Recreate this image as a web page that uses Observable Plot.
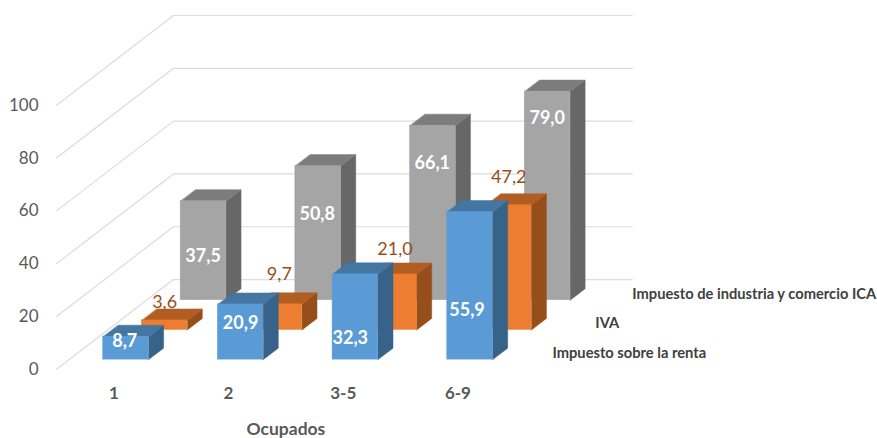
<!DOCTYPE html>
<html>
<head>
<meta charset="utf-8">
<script src="https://cdn.jsdelivr.net/npm/d3@7"></script>
<script src="https://cdn.jsdelivr.net/npm/@observablehq/plot@0.6"></script>
<style>html,body{margin:0;padding:0;background:#fff}svg{display:block}</style>
</head>
<body>
<div id="chart"></div>
<script>
// ---- data ----
const categories = ["1", "2", "3-5", "6-9"];
const renta = [8.7, 20.9, 32.3, 55.9];
const iva = [3.6, 9.7, 21.0, 47.2];
const ica = [37.5, 50.8, 66.1, 79.0];
const seriesNames = ["Impuesto sobre la renta", "IVA", "Impuesto de industria y comercio ICA"];
const yTicks = [0, 20, 40, 60, 80, 100];
const xTitle = "Ocupados";

// ---- oblique projection of (category, value, depth) on the two plot scales ----
const depthX = 1.02;      // category units per full floor depth
const depthY = 33.98;     // value units per full floor depth
const px = (c, d) => c + depthX * d;
const py = (v, d) => v + depthY * d;
const barGap = 0.297, barWidth = 0.396, barDepth = 0.128;

const series = [
  {values: ica,   depth: 0.77,  front: "#A5A5A5", top: "#7C7C7C", side: "#676767", label: "#fff", weight: 700,
   level: [16.9, 32.8, 52.3, 69.2], shift: [-0.002, -0.007, -0.004, -0.002]},
  {values: iva,   depth: 0.439, front: "#ED7D31", top: "#B25D22", side: "#964F1B", label: "#964F1B", weight: 400,
   level: [10.8, 21.4, 30.8, 58.2], shift: [0, 0, 0.008, 0]},
  {values: renta, depth: 0.108, front: "#5B9BD5", top: "#4476A2", side: "#376389", label: "#fff", weight: 700,
   level: [7.2, 14.1, 8.3, 18.9], shift: [-0.01, 0, -0.044, -0.026]}
];

const marks = [];
const font = "Lato, Carlito, sans-serif";

// walls: one polyline per gridline, floor edge then back wall
for (const v of yTicks) {
  marks.push(Plot.line(
    [[0, v, 0], [0, v, 1], [4, v, 1]],
    {x: p => px(p[0], p[2]), y: p => py(p[1], p[2]), stroke: "#DCDCDC", strokeWidth: 1.2}
  ));
}

function poly(points, fill) {
  return Plot.line(points, {x: "x", y: "y", fill, stroke: fill, strokeWidth: 0.5, curve: "linear-closed"});
}

for (const s of series) {
  s.values.forEach((v, i) => {
    const c1 = i + barGap, c2 = c1 + barWidth, d1 = s.depth, d2 = s.depth + barDepth;
    const pt = (c, h, d) => ({x: px(c, d), y: py(h, d)});
    marks.push(poly([pt(c2, 0, d1), pt(c2, 0, d2), pt(c2, v, d2), pt(c2, v, d1)], s.side));
    marks.push(poly([pt(c1, v, d1), pt(c2, v, d1), pt(c2, v, d2), pt(c1, v, d2)], s.top));
    marks.push(Plot.rect([{v}], {
      x1: () => px(c1, d1), x2: () => px(c2, d1),
      y1: () => py(0, d1), y2: d => py(d.v, d1),
      fill: s.front, stroke: s.front, strokeWidth: 0.5
    }));
  });
}

// value labels
for (const s of series) {
  marks.push(Plot.text(s.values, {
    x: (v, i) => px(i + barGap + barWidth / 2 + s.shift[i], s.depth),
    y: (v, i) => py(s.level[i], s.depth),
    text: v => v.toFixed(1).replace(".", ","),
    dy: 1,
    fill: s.label, fontSize: 18, fontWeight: s.weight, fontFamily: font
  }));
}

// category labels and title
marks.push(Plot.text(categories, {
  x: (c, i) => i + 0.5, y: -9.2, text: c => c,
  fill: "#595959", fontSize: 17, fontWeight: 700, fontFamily: font
}));
marks.push(Plot.text([xTitle], {
  x: 2, y: -22.6, text: t => t,
  fill: "#595959", fontSize: 17.5, fontWeight: 700, fontFamily: font
}));

// depth axis labels
const renderOrder = [series[2], series[1], series[0]];
const nameNudge = [-0.026, 0.01, -0.005];
marks.push(Plot.text(seriesNames, {
  x: (n, i) => px(4.24 + nameNudge[i], renderOrder[i].depth),
  y: (n, i) => py(2.4, renderOrder[i].depth),
  text: n => n, textAnchor: "start",
  fill: "#404040", fontSize: 14.7, fontWeight: 700, fontFamily: font
}));

// value axis
marks.push(Plot.axisY({
  ticks: yTicks, tickSize: 0, tickPadding: 0, label: null,
  fill: "#595959", fontSize: 17, fontFamily: font
}));

const plot = Plot.plot({
  width: 877, height: 438,
  marginLeft: 38, marginRight: 0, marginTop: 0, marginBottom: 0,
  x: {type: "linear", domain: [-0.157, 7.158], axis: null},
  y: {type: "linear", domain: [-26.2, 139.66], axis: null},
  style: {background: "#fff", fontFamily: font},
  marks
});
document.getElementById("chart").appendChild(plot);
</script>
</body>
</html>
